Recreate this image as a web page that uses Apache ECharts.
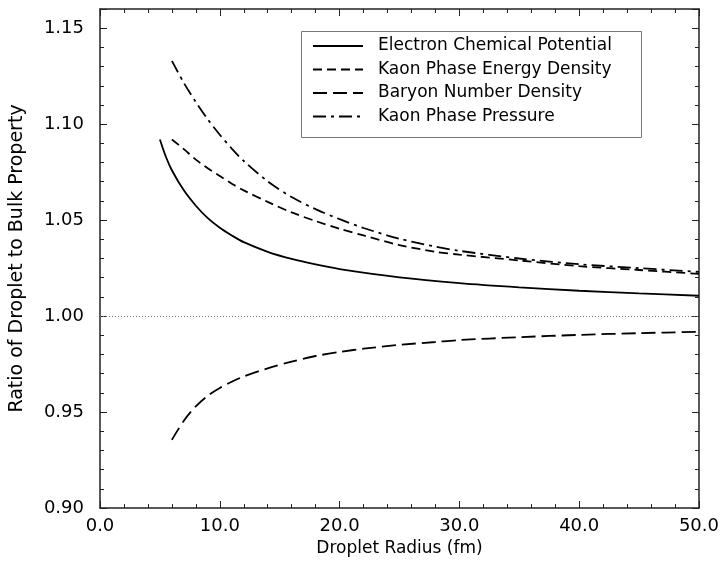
<!DOCTYPE html>
<html>
<head>
<meta charset="utf-8">
<script src="https://cdn.jsdelivr.net/npm/echarts@6/dist/echarts.min.js"></script>
<style>
  html, body { margin: 0; padding: 0; background: #fff; }
  #chart { width: 722px; height: 565px; }
</style>
</head>
<body>
<div id="chart"></div>
<script>
// radius values (fm)
var radiusElectron = [5, 5.5, 6, 7, 8, 9, 10, 11, 12, 14, 16, 18, 20, 25, 30, 35, 40, 45, 50];
var radius = [6, 7, 8, 9, 10, 11, 12, 14, 16, 18, 20, 22, 25, 28, 30, 35, 40, 45, 50];

// ratio of droplet to bulk property
var electronMu = [1.092, 1.083, 1.076, 1.0655, 1.0575, 1.051, 1.046, 1.042, 1.0385, 1.0335, 1.0298, 1.0269, 1.0245, 1.0202, 1.0172, 1.015, 1.0132, 1.0118, 1.0106];
var kaonEnergy = [1.092, 1.087, 1.0815, 1.077, 1.073, 1.069, 1.0655, 1.0595, 1.054, 1.0495, 1.0455, 1.042, 1.037, 1.0335, 1.032, 1.029, 1.026, 1.024, 1.022];
var baryonDensity = [0.9355, 0.9455, 0.953, 0.9585, 0.9625, 0.9658, 0.9685, 0.9728, 0.9763, 0.9792, 0.9813, 0.983, 0.985, 0.9865, 0.9875, 0.989, 0.9902, 0.9911, 0.9918];
var kaonPressure = [1.133, 1.1215, 1.1115, 1.1025, 1.0945, 1.0873, 1.0808, 1.0702, 1.0620, 1.0557, 1.0505, 1.0459, 1.0403, 1.0362, 1.034, 1.030, 1.027, 1.025, 1.023];

var names = ['Electron Chemical Potential', 'Kaon Phase Energy Density', 'Baryon Number Density', 'Kaon Phase Pressure'];

function pairs(xs, ys) {
	return xs.map(function (x, i) { return [x, ys[i]]; });
}

var FONT = 'DejaVu Sans';
var lineCol = '#222';

var myChart = echarts.init(document.getElementById('chart'));

function xAx(pos, showLabel) {
	return {
		type: 'value',
		position: pos,
		min: 0,
		max: 50,
		interval: 10,
		name: showLabel ? 'Droplet Radius (fm)' : '',
		nameLocation: 'middle',
		nameGap: 28,
		nameTextStyle: { color: '#000', fontSize: 17, fontFamily: FONT },
		axisLine: { show: true, onZero: false, lineStyle: { color: lineCol, width: 1.5 } },
		axisTick: { show: true, inside: true, length: 7, lineStyle: { color: lineCol, width: 1 } },
		minorTick: { show: true, splitNumber: 5, length: 4, lineStyle: { color: lineCol, width: 1 } },
		axisLabel: {
			show: showLabel,
			margin: 9,
			color: '#000',
			fontSize: 18,
			fontFamily: FONT,
			formatter: function (v) { return v.toFixed(1); }
		},
		splitLine: { show: false }
	};
}

// minor axis: ticks every 0.01, major axis: ticks every 0.05
function yAx(pos, major, showLabel) {
	return {
		type: 'value',
		position: pos,
		min: 0.9,
		max: 1.16,
		interval: major ? 0.05 : 0.01,
		name: showLabel ? 'Ratio of Droplet to Bulk Property' : '',
		nameLocation: 'middle',
		nameGap: 73,
		nameTextStyle: { color: '#000', fontSize: 19, fontFamily: FONT },
		axisLine: { show: !major, onZero: false, lineStyle: { color: lineCol, width: 1.5 } },
		axisTick: { show: true, inside: true, length: major ? 7 : 4, lineStyle: { color: lineCol, width: 1 } },
		axisLabel: {
			show: showLabel,
			margin: 16,
			color: '#000',
			fontSize: 18,
			fontFamily: FONT,
			formatter: function (v) {
				var k = Math.round(v * 100);
				return k % 5 === 0 ? v.toFixed(2) : '';
			}
		},
		splitLine: { show: false }
	};
}

function curve(name, data, dash) {
	return {
		name: name,
		type: 'line',
		data: data,
		smooth: 0.3,
		symbol: 'none',
		silent: true,
		lineStyle: { color: '#000', width: 1.8, type: dash },
		itemStyle: { color: '#000' }
	};
}

var option = {
	backgroundColor: '#fff',
	animation: false,
	grid: { left: 99, right: 21, top: 9, bottom: 57 },
	graphic: [{
		type: 'rect',
		shape: { x: 301.5, y: 31.5, width: 340, height: 106 },
		style: { fill: '#fff', stroke: '#777', lineWidth: 1 },
		z: 5
	}],
	legend: {
		data: names,
		orient: 'vertical',
		left: 312,
		top: 36,
		padding: 0,
		itemWidth: 50,
		itemHeight: 14,
		itemGap: 3.5,
		z: 10,
		itemStyle: { color: 'rgba(0,0,0,0)', borderWidth: 0 },
		textStyle: { color: '#000', fontSize: 17, fontFamily: FONT, lineHeight: 20, padding: [0, 0, 0, 10] }
	},
	xAxis: [xAx('bottom', true), xAx('top', false)],
	yAxis: [yAx('left', false, true), yAx('left', true, false), yAx('right', false, false), yAx('right', true, false)],
	series: [
		curve(names[0], pairs(radiusElectron, electronMu), 'solid'),
		curve(names[1], pairs(radius, kaonEnergy), [9, 5]),
		curve(names[2], pairs(radius, baryonDensity), [14, 6]),
		curve(names[3], pairs(radius, kaonPressure), [13, 5, 3, 5]),
		{
			type: 'line',
			data: [],
			silent: true,
			markLine: {
				symbol: 'none',
				silent: true,
				label: { show: false },
				lineStyle: { color: '#777', width: 1, type: [1, 2] },
				data: [{ yAxis: 1.0 }]
			}
		}
	]
};

myChart.setOption(option);
</script>
</body>
</html>
